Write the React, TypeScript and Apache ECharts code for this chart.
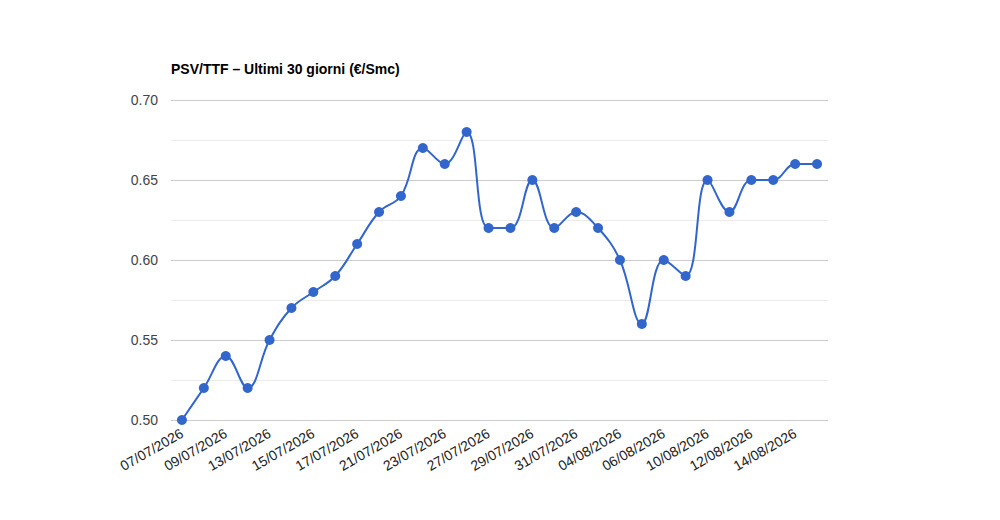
import React, { useEffect, useRef } from 'react';
import * as echarts from 'echarts';

const dates = [
  '07/07/2026', '08/07/2026', '09/07/2026', '10/07/2026', '13/07/2026',
  '14/07/2026', '15/07/2026', '16/07/2026', '17/07/2026', '20/07/2026',
  '21/07/2026', '22/07/2026', '23/07/2026', '24/07/2026', '27/07/2026',
  '28/07/2026', '29/07/2026', '30/07/2026', '31/07/2026', '03/08/2026',
  '04/08/2026', '05/08/2026', '06/08/2026', '07/08/2026', '10/08/2026',
  '11/08/2026', '12/08/2026', '13/08/2026', '14/08/2026', '17/08/2026',
];

const spread = [
  0.50, 0.52, 0.54, 0.52, 0.55, 0.57, 0.58, 0.59, 0.61, 0.63,
  0.64, 0.67, 0.66, 0.68, 0.62, 0.62, 0.65, 0.62, 0.63, 0.62,
  0.60, 0.56, 0.60, 0.59, 0.65, 0.63, 0.65, 0.65, 0.66, 0.66,
];

const FONT = '"Liberation Sans", Arial, sans-serif';

export default function App() {
  const chartRef = useRef<HTMLDivElement>(null);

  useEffect(() => {
    document.body.style.margin = '0';
    if (!chartRef.current) return;
    const chart = echarts.init(chartRef.current, undefined, { renderer: 'svg' });

    chart.setOption({
      animation: false,
      backgroundColor: '#fff',
      title: {
        text: 'PSV/TTF – Ultimi 30 giorni (€/Smc)',
        left: 171,
        top: 62,
        padding: 0,
        textStyle: { fontFamily: FONT, fontSize: 14, fontWeight: 'bold', color: '#000' },
      },
      grid: { left: 171, right: 172, top: 100, bottom: 100 },
      xAxis: {
        type: 'category',
        data: dates,
        boundaryGap: true,
        axisLine: { show: false },
        axisTick: { show: false },
        axisLabel: {
          interval: 1,
          rotate: 30,
          margin: 12,
          fontFamily: FONT,
          fontSize: 14,
          color: '#222',
        },
      },
      yAxis: {
        type: 'value',
        min: 0.5,
        max: 0.7,
        interval: 0.05,
        axisLine: { show: false },
        axisTick: { show: false },
        axisLabel: {
          formatter: (v: number) => v.toFixed(2),
          margin: 13,
          fontFamily: FONT,
          fontSize: 14,
          color: '#444',
        },
        splitLine: { lineStyle: { color: '#cccccc', width: 1 } },
        minorTick: { show: false, splitNumber: 2 },
        minorSplitLine: { show: true, lineStyle: { color: '#ebebeb', width: 1 } },
      },
      series: [
        {
          type: 'line',
          data: spread,
          smooth: 0.4,
          symbol: 'circle',
          symbolSize: 10,
          itemStyle: { color: '#3366cc' },
          lineStyle: { color: '#3366cc', width: 2 },
        },
      ],
    });

    return () => {
      chart.dispose();
    };
  }, []);

  return <div ref={chartRef} style={{ width: 1000, height: 520 }} />;
}
